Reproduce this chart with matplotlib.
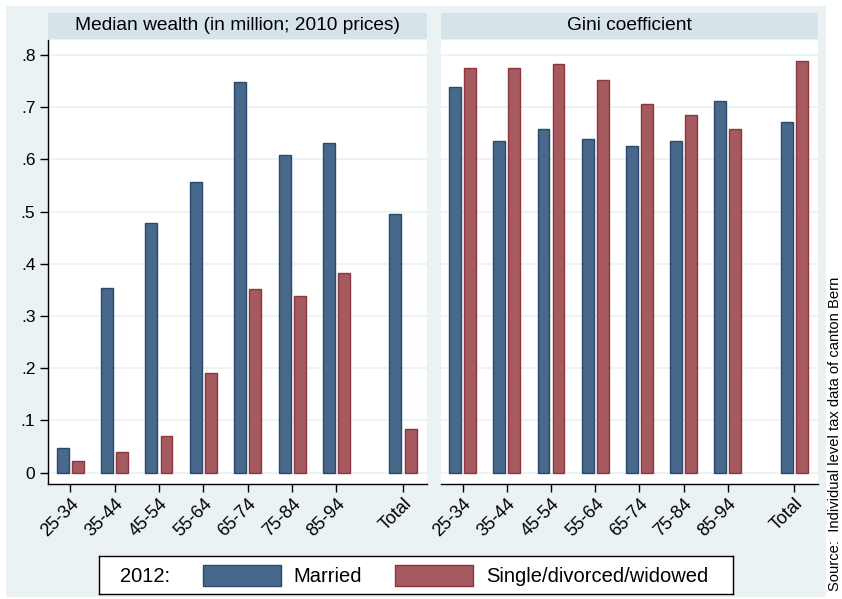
import numpy as np
import matplotlib.pyplot as plt
from matplotlib.patches import Rectangle

plt.rcParams['font.family'] = ['Liberation Sans', 'DejaVu Sans']

# age groups; "Total" sits a little apart from the rest
groups = ['25-34', '35-44', '45-54', '55-64', '65-74', '75-84', '85-94', 'Total']
xpos = [0, 1, 2, 3, 4, 5, 6, 7.5]

wealth_married = [0.048, 0.354, 0.478, 0.557, 0.749, 0.608, 0.631, 0.495]
wealth_single = [0.023, 0.039, 0.070, 0.191, 0.352, 0.338, 0.383, 0.084]
gini_married = [0.738, 0.635, 0.658, 0.640, 0.626, 0.636, 0.711, 0.671]
gini_single = [0.776, 0.776, 0.783, 0.753, 0.707, 0.685, 0.659, 0.788]

yticks = [0, 0.1, 0.2, 0.3, 0.4, 0.5, 0.6, 0.7, 0.8]
ytick_labels = ['0', '.1', '.2', '.3', '.4', '.5', '.6', '.7', '.8']

blue, blue_edge = '#48698b', '#2a4a6c'
red, red_edge = '#a55a60', '#8e3640'
bg = '#eaf2f3'
strip = '#d6e3e9'

W, H = 842, 599
fig = plt.figure(figsize=(W / 100, H / 100), dpi=100, facecolor='white')


def box(x0, y0, x1, y1):
    # pixel box (top-left origin) -> figure fraction rect
    return [x0 / W, 1 - y1 / H, (x1 - x0) / W, (y1 - y0) / H]


# outer graph region, behind everything
fig.add_artist(Rectangle((6 / W, 1 - 597 / H), 820 / W, 591 / H,
                         transform=fig.transFigure, facecolor=bg,
                         edgecolor='none', zorder=-10))

panels = [
    (box(48, 40, 427, 484), box(48, 13, 427, 39),
     'Median wealth (in million; 2010 prices)', wealth_married, wealth_single, True),
    (box(440.5, 40, 818, 484), box(440.5, 13, 818, 39),
     'Gini coefficient', gini_married, gini_single, False),
]

x = np.array(xpos)
bw = 0.27
off = 0.17
for rect, srect, title, married, single, show_y in panels:
    ax = fig.add_axes(rect)
    ax.set_facecolor('white')
    ax.bar(x - off, married, width=bw, color=blue, edgecolor=blue_edge,
           linewidth=1, zorder=3)
    ax.bar(x + off, single, width=bw, color=red, edgecolor=red_edge,
           linewidth=1, zorder=3)
    ax.set_xlim(-0.5, 8.04)
    ax.set_ylim(-0.0218, 0.8287)
    ax.set_yticks(yticks)
    for yv in yticks:
        ax.axhline(yv, color=bg, lw=1.2, zorder=1)
    ax.set_xticks(xpos)
    ax.set_xticklabels(groups, rotation=45, ha='right', va='top',
                       rotation_mode='anchor', fontsize=13)
    ax.tick_params(axis='x', length=6, width=1, pad=2)
    for s in ['top', 'right']:
        ax.spines[s].set_visible(False)
    ax.spines['bottom'].set_linewidth(1)
    if show_y:
        ax.set_yticklabels(ytick_labels, fontsize=12.5)
        ax.tick_params(axis='y', length=6, width=1, pad=3)
        ax.spines['left'].set_linewidth(1)
    else:
        ax.spines['left'].set_visible(False)
        ax.tick_params(axis='y', left=False, labelleft=False)

    sax = fig.add_axes(srect)
    sax.set_facecolor(strip)
    sax.set_xticks([])
    sax.set_yticks([])
    for s in sax.spines.values():
        s.set_visible(False)
    sax.text(0.5, 0.5, title, ha='center', va='center', fontsize=13.8,
             transform=sax.transAxes)

# legend box
lax = fig.add_axes(box(99, 556, 733, 594))
lax.set_xlim(99, 733)
lax.set_ylim(594, 556)
lax.set_xticks([])
lax.set_yticks([])
for s in lax.spines.values():
    s.set_linewidth(1)
lax.text(120, 576, '2012:', ha='left', va='center', fontsize=14.5)
lax.add_patch(Rectangle((203, 565), 78, 21, facecolor=blue, edgecolor=blue_edge, lw=1))
lax.text(293, 576, 'Married', ha='left', va='center', fontsize=14.5)
lax.add_patch(Rectangle((395, 565), 78, 21, facecolor=red, edgecolor=red_edge, lw=1))
lax.text(486, 576, 'Single/divorced/widowed', ha='left', va='center', fontsize=14.5)

fig.text(835 / W, 1 - 434 / H, 'Source:  Individual level tax data of canton Bern',
         rotation=90, ha='center', va='center', fontsize=10.6)

fig.savefig('out.png', dpi=100, facecolor='white')
